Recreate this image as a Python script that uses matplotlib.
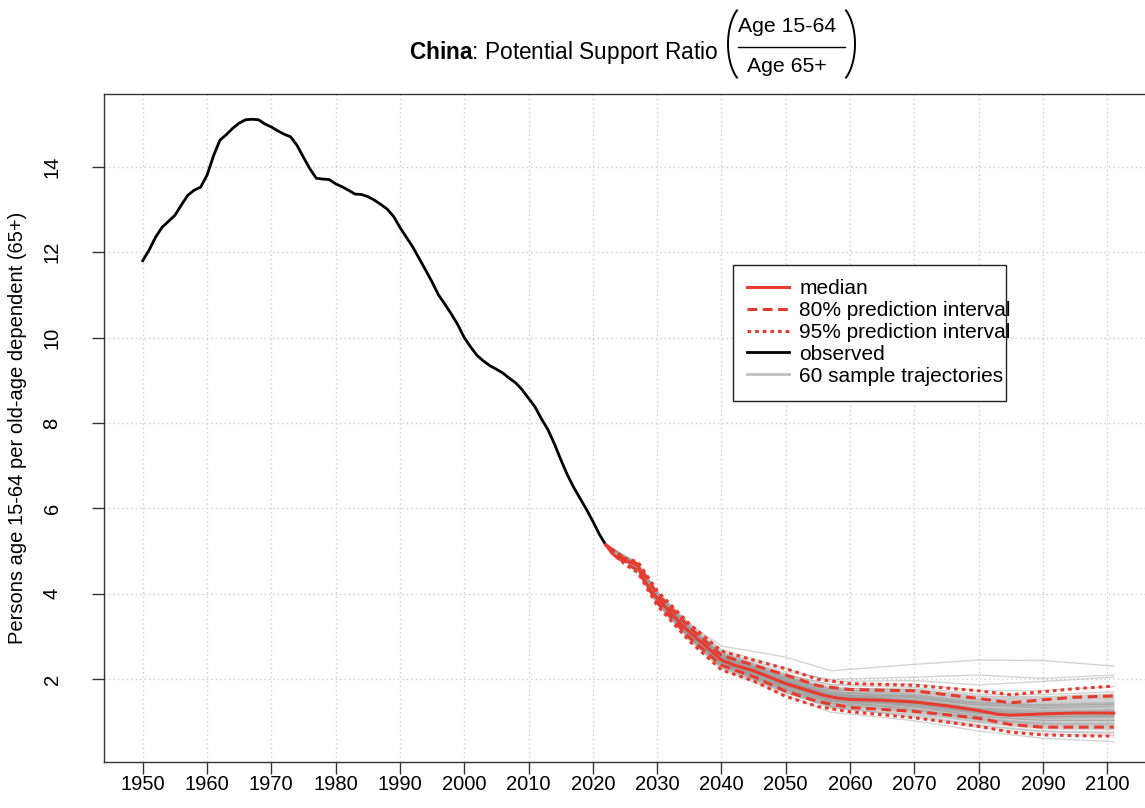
import numpy as np
import matplotlib.pyplot as plt
from matplotlib.patches import Rectangle
from matplotlib.lines import Line2D

plt.rcParams['font.family'] = ['Liberation Sans', 'DejaVu Sans']
plt.rcParams['mathtext.fontset'] = 'custom'
plt.rcParams['mathtext.rm'] = 'Liberation Sans'
plt.rcParams['mathtext.bf'] = 'Liberation Sans:bold'
plt.rcParams['mathtext.it'] = 'Liberation Sans:italic'

# observed potential support ratio, 1950-2022
obs_years = np.arange(1950, 2023)
obs_ratio = [11.80, 12.05, 12.35, 12.58, 12.72, 12.86, 13.10, 13.33, 13.45, 13.52,
             13.80, 14.25, 14.62, 14.75, 14.90, 15.02, 15.10, 15.11, 15.10, 15.00,
             14.93, 14.84, 14.76, 14.70, 14.50, 14.22, 13.95, 13.73, 13.71, 13.70,
             13.60, 13.53, 13.45, 13.36, 13.35, 13.30, 13.22, 13.12, 13.01, 12.84,
             12.58, 12.35, 12.12, 11.85, 11.58, 11.30, 11.00, 10.78, 10.55, 10.30,
             10.00, 9.78, 9.58, 9.45, 9.34, 9.26, 9.17, 9.05, 8.94, 8.78,
             8.58, 8.38, 8.10, 7.85, 7.52, 7.15, 6.80, 6.50, 6.24, 5.98,
             5.70, 5.40, 5.15]

# projected median
med_years = [2022, 2023, 2024, 2025, 2026, 2027, 2028, 2029, 2030, 2032, 2034, 2036,
             2038, 2040, 2042, 2045, 2048, 2050, 2053, 2056, 2058, 2060, 2065, 2070,
             2075, 2080, 2083, 2085, 2090, 2095, 2101]
med_ratio = [5.15, 4.95, 4.82, 4.76, 4.74, 4.66, 4.32, 4.08, 3.90, 3.58, 3.25, 2.98,
             2.72, 2.45, 2.33, 2.20, 2.02, 1.90, 1.76, 1.62, 1.56, 1.53, 1.51, 1.47,
             1.38, 1.27, 1.18, 1.16, 1.19, 1.21, 1.21]

# prediction intervals
band_years = [2022, 2025, 2027, 2030, 2035, 2040, 2045, 2050, 2055, 2060, 2070, 2080,
              2085, 2090, 2095, 2101]
pi80_hi = [5.15, 4.80, 4.70, 4.00, 3.22, 2.56, 2.33, 2.10, 1.85, 1.76, 1.73, 1.55,
           1.45, 1.52, 1.58, 1.61]
pi80_lo = [5.15, 4.72, 4.55, 3.80, 2.98, 2.33, 2.06, 1.72, 1.48, 1.34, 1.25, 1.09,
           0.94, 0.88, 0.88, 0.88]
pi95_hi = [5.15, 4.83, 4.75, 4.07, 3.30, 2.66, 2.45, 2.25, 2.00, 1.90, 1.86, 1.73,
           1.64, 1.71, 1.78, 1.84]
pi95_lo = [5.15, 4.69, 4.50, 3.73, 2.90, 2.22, 1.96, 1.60, 1.36, 1.24, 1.10, 0.90,
           0.76, 0.70, 0.68, 0.67]

# 60 sampled trajectories
traj_years = [2022, 2027, 2030, 2035, 2040, 2050, 2057, 2070, 2080, 2090, 2101]
trajectories = [
    [5.15, 4.62, 3.90, 3.10, 2.45, 1.90, 1.60, 1.51, 1.31, 1.24, 1.27],
    [5.15, 4.65, 3.94, 3.15, 2.51, 1.98, 1.69, 1.62, 1.44, 1.39, 1.43],
    [5.15, 4.60, 3.86, 3.05, 2.39, 1.83, 1.51, 1.41, 1.21, 1.12, 1.13],
    [5.15, 4.67, 3.98, 3.20, 2.57, 2.05, 1.72, 1.58, 1.40, 1.34, 1.38],
    [5.15, 4.57, 3.82, 3.00, 2.33, 1.75, 1.39, 1.24, 1.02, 0.89, 0.87],
    [5.15, 4.63, 3.92, 3.12, 2.47, 1.93, 1.56, 1.39, 1.19, 1.09, 1.10],
    [5.15, 4.61, 3.88, 3.08, 2.43, 1.87, 1.59, 1.53, 1.33, 1.27, 1.29],
    [5.15, 4.70, 4.02, 3.25, 2.63, 2.13, 1.86, 1.81, 1.65, 1.64, 1.71],
    [5.15, 4.55, 3.78, 2.95, 2.27, 1.68, 1.37, 1.28, 1.06, 0.94, 0.93],
    [5.15, 4.66, 3.96, 3.18, 2.55, 2.02, 1.75, 1.70, 1.52, 1.49, 1.55],
    [5.15, 4.58, 3.84, 3.02, 2.35, 1.78, 1.47, 1.37, 1.17, 1.07, 1.07],
    [5.15, 4.64, 3.92, 3.13, 2.49, 1.95, 1.61, 1.47, 1.27, 1.19, 1.21],
    [5.15, 4.60, 3.88, 3.07, 2.41, 1.86, 1.49, 1.32, 1.10, 0.99, 0.99],
    [5.15, 4.68, 4.00, 3.22, 2.59, 2.08, 1.76, 1.64, 1.46, 1.41, 1.46],
    [5.15, 4.56, 3.80, 2.98, 2.31, 1.72, 1.34, 1.17, 0.93, 0.79, 0.76],
    [5.15, 4.65, 3.95, 3.16, 2.52, 1.99, 1.66, 1.53, 1.33, 1.27, 1.29],
    [5.15, 4.59, 3.85, 3.04, 2.38, 1.81, 1.52, 1.45, 1.25, 1.17, 1.18],
    [5.15, 4.62, 3.91, 3.11, 2.46, 1.92, 1.64, 1.58, 1.40, 1.34, 1.38],
    [5.15, 4.61, 3.89, 3.09, 2.44, 1.88, 1.52, 1.36, 1.14, 1.04, 1.04],
    [5.15, 4.70, 4.03, 3.30, 2.78, 2.52, 2.20, 2.35, 2.45, 2.44, 2.31],
    [5.15, 4.64, 3.93, 3.14, 2.50, 1.96, 1.73, 1.74, 1.56, 1.54, 1.60],
    [5.15, 4.60, 3.87, 3.06, 2.40, 1.84, 1.44, 1.22, 1.00, 0.87, 0.85],
    [5.15, 4.66, 3.97, 3.19, 2.56, 2.04, 1.67, 1.49, 1.29, 1.22, 1.24],
    [5.15, 4.58, 3.83, 3.01, 2.34, 1.77, 1.49, 1.43, 1.23, 1.14, 1.15],
    [5.15, 4.62, 3.90, 3.10, 2.45, 1.90, 1.50, 1.30, 1.08, 0.97, 0.96],
    [5.15, 4.66, 3.96, 3.17, 2.53, 2.00, 1.78, 1.77, 1.61, 1.59, 1.66],
    [5.15, 4.59, 3.84, 3.03, 2.37, 1.80, 1.36, 1.11, 0.87, 0.72, 0.68],
    [5.15, 4.69, 4.00, 3.23, 2.61, 2.10, 1.88, 1.89, 1.73, 1.74, 1.83],
    [5.15, 4.56, 3.80, 2.97, 2.29, 1.71, 1.41, 1.34, 1.12, 1.02, 1.01],
    [5.15, 4.63, 3.92, 3.12, 2.47, 1.93, 1.67, 1.64, 1.46, 1.41, 1.46],
    [5.15, 4.61, 3.88, 3.08, 2.43, 1.87, 1.56, 1.47, 1.27, 1.19, 1.21],
    [5.15, 4.65, 3.94, 3.15, 2.51, 1.98, 1.61, 1.43, 1.23, 1.14, 1.15],
    [5.15, 4.60, 3.86, 3.05, 2.39, 1.83, 1.58, 1.57, 1.38, 1.32, 1.35],
    [5.15, 4.68, 3.99, 3.21, 2.58, 2.07, 1.76, 1.66, 1.48, 1.44, 1.49],
    [5.15, 4.56, 3.81, 2.99, 2.32, 1.74, 1.37, 1.20, 0.98, 0.84, 0.82],
    [5.15, 4.64, 3.92, 3.13, 2.49, 1.95, 1.64, 1.55, 1.35, 1.29, 1.32],
    [5.15, 4.60, 3.88, 3.07, 2.41, 1.86, 1.52, 1.39, 1.19, 1.09, 1.10],
    [5.15, 4.66, 3.96, 3.18, 2.55, 2.02, 1.69, 1.57, 1.38, 1.32, 1.35],
    [5.15, 4.58, 3.84, 3.02, 2.35, 1.78, 1.42, 1.26, 1.04, 0.92, 0.90],
    [5.15, 4.71, 4.04, 3.27, 2.66, 2.18, 2.00, 2.05, 2.10, 2.02, 2.10],
    [5.15, 4.53, 3.76, 2.92, 2.23, 1.63, 1.23, 1.03, 0.79, 0.62, 0.54],
    [5.15, 4.62, 3.90, 3.10, 2.45, 1.90, 1.64, 1.60, 1.42, 1.37, 1.41],
    [5.15, 4.65, 3.95, 3.16, 2.52, 1.99, 1.58, 1.36, 1.14, 1.04, 1.04],
    [5.15, 4.59, 3.85, 3.04, 2.38, 1.81, 1.60, 1.62, 1.44, 1.39, 1.43],
    [5.15, 4.64, 3.93, 3.14, 2.50, 1.96, 1.63, 1.51, 1.31, 1.24, 1.27],
    [5.15, 4.60, 3.87, 3.06, 2.40, 1.84, 1.53, 1.43, 1.23, 1.14, 1.15],
    [5.15, 4.67, 3.98, 3.20, 2.57, 2.05, 1.79, 1.76, 1.59, 1.57, 1.63],
    [5.15, 4.57, 3.82, 3.00, 2.33, 1.75, 1.44, 1.36, 1.14, 1.04, 1.04],
    [5.15, 4.62, 3.91, 3.11, 2.46, 1.92, 1.58, 1.45, 1.25, 1.17, 1.18],
    [5.15, 4.61, 3.89, 3.09, 2.44, 1.88, 1.58, 1.49, 1.29, 1.22, 1.24],
    [5.15, 4.66, 3.96, 3.17, 2.53, 2.00, 1.64, 1.47, 1.27, 1.19, 1.21],
    [5.15, 4.59, 3.84, 3.03, 2.37, 1.80, 1.44, 1.30, 1.08, 0.97, 0.96],
    [5.15, 4.63, 3.92, 3.12, 2.47, 1.93, 1.69, 1.68, 1.50, 1.46, 1.52],
    [5.15, 4.61, 3.88, 3.08, 2.43, 1.87, 1.48, 1.28, 1.06, 0.94, 0.93],
    [5.15, 4.69, 4.01, 3.24, 2.62, 2.11, 1.81, 1.72, 1.54, 1.52, 1.57],
    [5.15, 4.55, 3.79, 2.96, 2.28, 1.69, 1.32, 1.15, 0.91, 0.77, 0.73],
    [5.15, 4.66, 3.97, 3.19, 2.56, 2.04, 1.72, 1.60, 1.42, 1.37, 1.41],
    [5.15, 4.58, 3.83, 3.01, 2.34, 1.77, 1.48, 1.41, 1.21, 1.12, 1.13],
    [5.15, 4.64, 3.92, 3.13, 2.49, 1.95, 1.58, 1.41, 1.21, 1.12, 1.13],
    [5.15, 4.72, 4.06, 3.30, 2.70, 2.25, 1.95, 1.97, 1.87, 1.95, 2.05],
]

xticks = np.arange(1950, 2101, 10)
yticks = np.arange(2, 15, 2)

red = '#e63b2e'
W, H = 1145, 808

fig = plt.figure(figsize=(W / 100, H / 100), dpi=100)
ax = fig.add_axes([104 / W, 1 - 761.7 / H, 1048.5 / W, 668 / H])

ax.set_xticks(xticks)
ax.set_yticks(yticks)
ax.grid(True, color='#cccccc', linestyle=(0, (1, 2.2)), linewidth=1.0)
ax.set_axisbelow(True)

for tr in trajectories:
    ax.plot(traj_years, tr, color='#9a9a9a', lw=1.0, alpha=0.42, zorder=2)

ax.plot(obs_years, obs_ratio, color='black', lw=2.0, zorder=3)
ax.plot(med_years, med_ratio, color=red, lw=2.2, zorder=4)
ax.plot(band_years, pi80_hi, color=red, lw=2.2, dashes=(3.2, 1.8), zorder=4)
ax.plot(band_years, pi80_lo, color=red, lw=2.2, dashes=(3.2, 1.8), zorder=4)
ax.plot(band_years, pi95_hi, color=red, lw=2.2, dashes=(1.2, 1.3), zorder=4)
ax.plot(band_years, pi95_lo, color=red, lw=2.2, dashes=(1.2, 1.3), zorder=4)

ax.set_xlim(1943.98, 2107.04)
ax.set_ylim(0.071, 15.709)

for s in ax.spines.values():
    s.set_color('#333333')
    s.set_linewidth(1.0)
ax.tick_params(axis='both', direction='out', length=8.6, width=1.0,
               color='#333333', labelsize=14.5)
ax.tick_params(axis='x', pad=0.8)
ax.tick_params(axis='y', pad=22, labelrotation=90)
for lab in ax.get_yticklabels():
    lab.set_va('center')

ax.set_ylabel('Persons age 15-64 per old-age dependent (65+)', fontsize=14.5, labelpad=11)

# legend: entries plus a fixed-size box like R's legend()
leg_handles = [
    Line2D([], [], color=red, lw=2.2),
    Line2D([], [], color=red, lw=2.2, dashes=(3.2, 1.8)),
    Line2D([], [], color=red, lw=2.2, dashes=(1.2, 1.3)),
    Line2D([], [], color='black', lw=2.0),
    Line2D([], [], color='#c0c0c0', lw=2.0),
]
leg_labels = ['median', '80% prediction interval', '95% prediction interval',
              'observed', '60 sample trajectories']
leg = ax.legend(leg_handles, leg_labels, loc='upper left',
                bbox_to_anchor=(747 / W, 1 - 279 / H), bbox_transform=fig.transFigure,
                fontsize=15, frameon=False, handlelength=2.0, handletextpad=0.5,
                labelspacing=0.14, borderpad=0, borderaxespad=0)
leg.set_zorder(6)
ax.add_patch(Rectangle((733 / W, 1 - 401 / H), 273 / W, 136 / H,
                       transform=fig.transFigure, facecolor='white',
                       edgecolor='#222222', lw=1.0, zorder=5, clip_on=False))

# title with a stacked fraction in round brackets
fig.text(718 / W, 1 - 59 / H, r'$\mathbf{China}$: Potential Support Ratio',
         ha='right', va='baseline', fontsize=16.3)
fig.text(787 / W, 1 - 26 / H, 'Age 15-64', ha='center', va='center', fontsize=15.3)
fig.text(787 / W, 1 - 66 / H, 'Age 65+', ha='center', va='center', fontsize=15.3)
fig.add_artist(Line2D([738 / W, 845 / W], [1 - 46.7 / H, 1 - 46.7 / H],
                      transform=fig.transFigure, color='black', lw=1.0))

# bracket outlines, in pixel units
t = np.radians(np.linspace(125, 235, 40))
bx, by = 21 * np.cos(t), 41 * np.sin(t)
fig.add_artist(Line2D((749 + bx) / W, 1 - (44 + by) / H,
                      transform=fig.transFigure, color='black', lw=1.4))
fig.add_artist(Line2D((834 - bx) / W, 1 - (44 + by) / H,
                      transform=fig.transFigure, color='black', lw=1.4))

fig.savefig('out.png', dpi=100)
